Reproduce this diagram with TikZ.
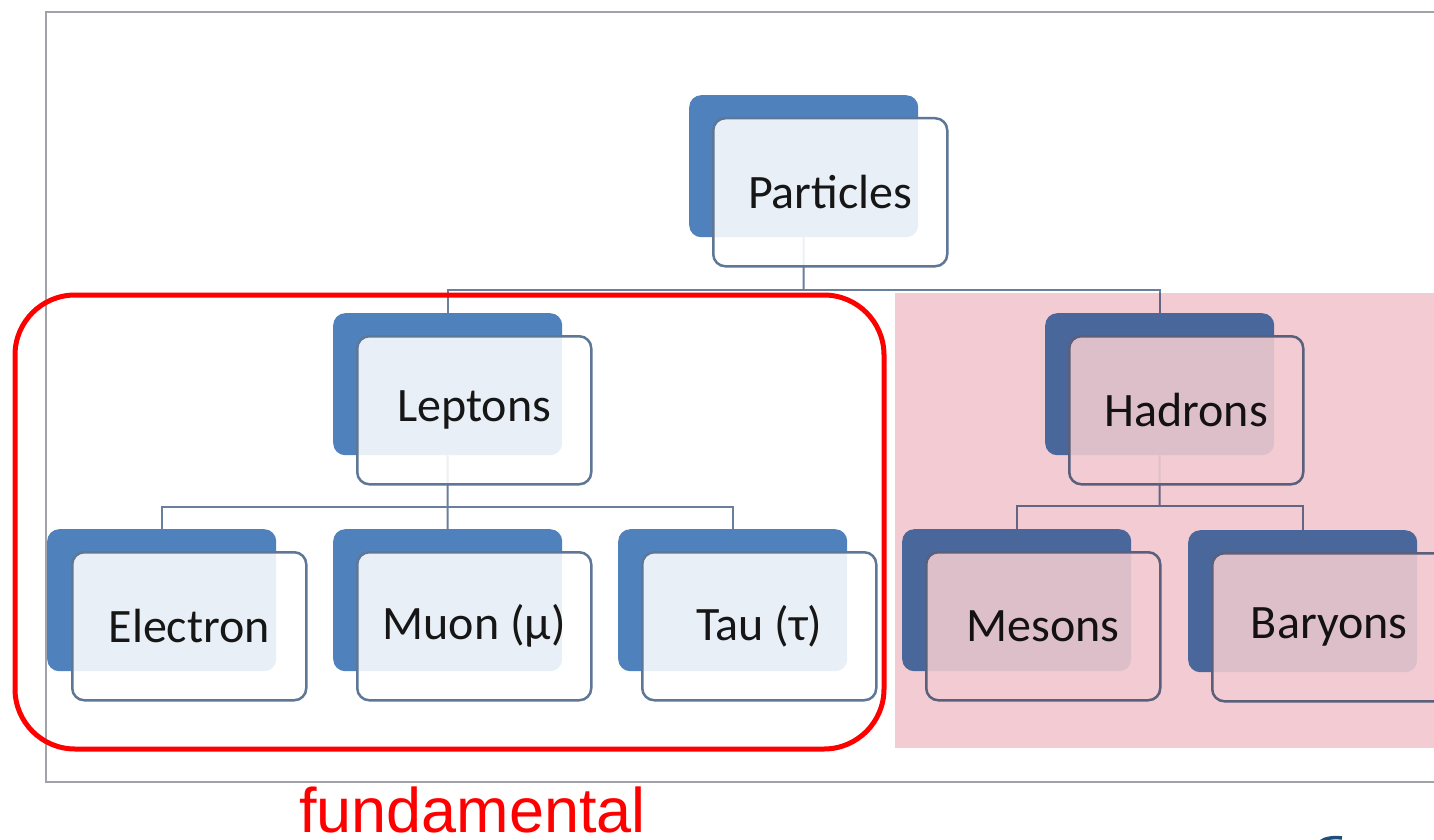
\documentclass[tikz,border=0pt]{standalone}
\usepackage{fontspec}
\setmainfont{Carlito}
\newfontfamily\arialf{Liberation Sans}
\definecolor{backblue}{HTML}{4F81BD}
\definecolor{frontedge}{HTML}{5F7796}
\definecolor{connc}{HTML}{6A7F9E}
\definecolor{framegray}{HTML}{A0A4A8}
\definecolor{pinkov}{HTML}{F2CCD2}
\definecolor{txt}{HTML}{161616}
\definecolor{logoblue}{HTML}{1F4E79}
\begin{document}
\begin{tikzpicture}[x=1pt,y=-1pt,
  backbox/.style={draw=none, fill=backblue, rounded corners=12pt, minimum width=229pt, minimum height=142pt, anchor=north west, inner sep=0pt},
  frontbox/.style={draw=frontedge, line width=2.5pt, fill=white, fill opacity=0.88, text opacity=1, rounded corners=12pt, minimum width=234pt, minimum height=148pt, anchor=north west, inner sep=0pt, text=txt, font=\fontsize{48}{58}\selectfont},
  conn/.style={draw=connc, line width=2pt},
  redbox/.style={draw=red, line width=5pt, rounded corners=60pt},
  overlay/.style={fill=pinkov, blend mode=multiply},
  framel/.style={draw=framegray, line width=2.5pt},
]
\useasboundingbox (0,0) rectangle (1434,840);
\clip (0,0) rectangle (1434,840);
\fill[white] (0,0) rectangle (1434,840);

% outer frame
\draw[framel] (1440,12) -- (46,12) -- (46,782) -- (1440,782);

% back boxes
\node[backbox] (bpart) at (689,95) {};
\node[backbox] (blep) at (333,313) {};
\node[backbox] (bhad) at (1045,313) {};
\node[backbox] (bele) at (47,529) {};
\node[backbox] (bmuo) at (333,529) {};
\node[backbox] (btau) at (618,529) {};
\node[backbox] (bmes) at (902,529) {};
\node[backbox] (bbar) at (1188,530) {};

% junctions
\coordinate (jpart) at (803.5,290);
\coordinate (jlep) at (447.5,507);
\coordinate (jhad) at (1159.5,506);

% connectors
\draw[conn] (bpart.south) -- (jpart);
\draw[conn] (blep.north) |- (jpart) -| (bhad.north);
\draw[conn] (blep.south) -- (jlep);
\draw[conn] (bele.north) |- (jlep) -| (btau.north);
\draw[conn] (jlep) -- (bmuo.north);
\draw[conn] (bhad.south) -- (jhad);
\draw[conn] (bmes.north) |- (jhad) -| (bbar.north);

% front boxes
\node[frontbox] (fpart) at (712,117) {Particles};
\node[frontbox] (flep) at (356,335) {Leptons};
\node[frontbox] (fhad) at (1068,335) {Hadrons};
\node[frontbox] (fele) at (71,551) {Electron};
\node[frontbox] (fmuo) at (356,551) {Muon (μ)};
\node[frontbox] (ftau) at (641,551) {Tau (τ)};
\node[frontbox] (fmes) at (925,551) {Mesons};
\node[frontbox] (fbar) at (1211,552) {Baryons};

% pink overlay over hadrons
\fill[overlay] (895,293) rectangle (1440,748);

% red rounded box
\draw[redbox] (15,295) rectangle (884,749);

% label
\node[font=\arialf\fontsize{63}{70}\selectfont, text=red, anchor=base west, inner sep=0pt] (fund) at (299,832) {fundamental};

% partial logo mark
\draw[logoblue, line width=3.5pt] (1320,842) .. controls (1325,838) and (1333,837) .. (1342,838);
\end{tikzpicture}
\end{document}
